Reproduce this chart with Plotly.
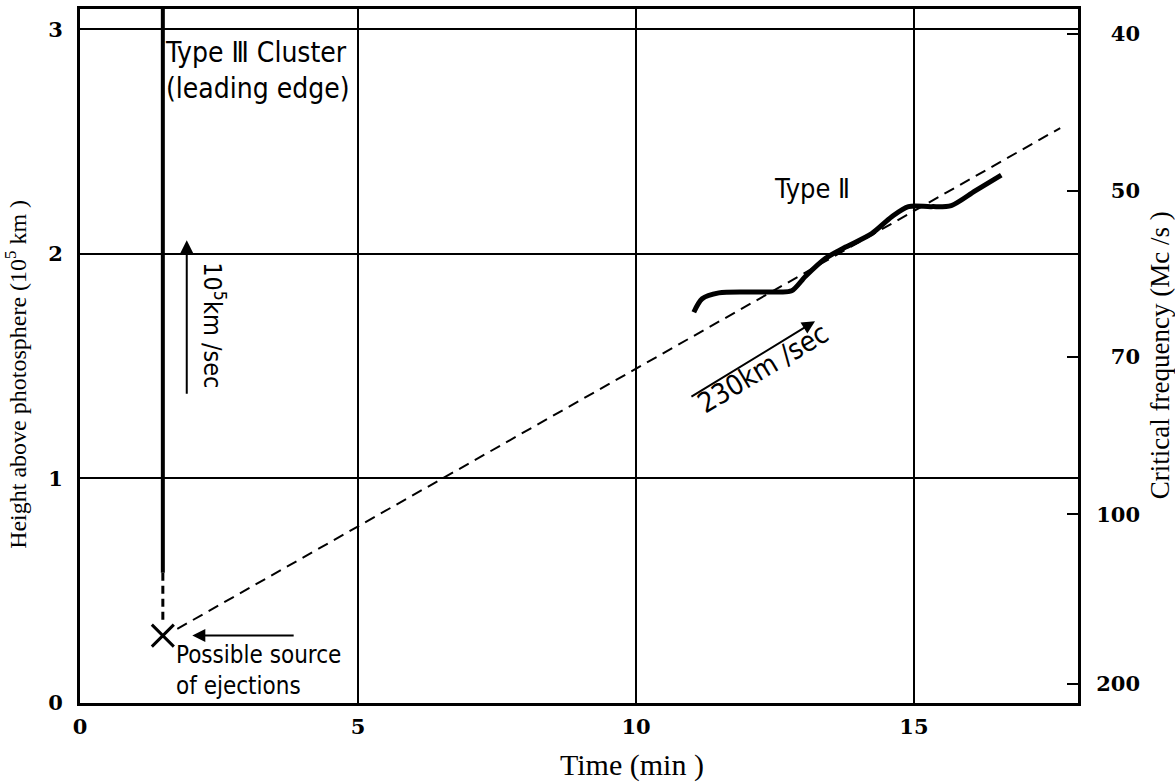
import plotly.graph_objects as go

# ---- data ----
# Type II burst track (time in min, height in 10^5 km)
type2_t = [11.04, 11.19, 11.49, 12.03, 12.57, 12.80, 13.05, 13.41, 13.77, 14.24, 14.60, 14.90, 15.31, 15.67, 16.10, 16.57]
type2_h = [1.74, 1.80, 1.826, 1.83, 1.83, 1.835, 1.90, 1.98, 2.03, 2.09, 2.165, 2.21, 2.21, 2.215, 2.28, 2.35]

# 230 km/sec fit line (dashed)
fit_t = [1.75, 17.63]
fit_h = [0.33, 2.56]

# Type III cluster leading edge
type3_t_solid = [1.49, 1.49]
type3_h_solid = [3.09, 0.58]
type3_t_dash = [1.49, 1.49]
type3_h_dash = [0.58, 0.37]

# possible source of ejections
source_t = [1.49]
source_h = [0.30]

# axes
x_ticks = [0, 5, 10, 15]
y_ticks = [0, 1, 2, 3]
freq_labels = ["40", "50", "70", "100", "200"]
freq_heights = [2.98, 2.28, 1.54, 0.84, 0.085]

X_MAX = 17.95
Y_MAX = 3.09

hand = "DejaVu Sans Condensed, Roboto Condensed, Liberation Sans Narrow, Noto Sans, sans-serif"
serif = "Liberation Serif, DejaVu Serif, serif"
numfont = "DejaVu Serif, Liberation Serif, serif"

# right-align the frequency labels with figure spaces
freq_text = ["\u2007" * (3 - len(s)) + s for s in freq_labels]

fig = go.Figure()

fig.add_trace(go.Scatter(x=fit_t, y=fit_h, mode="lines",
                         line=dict(color="black", width=2, dash="11px,7px"),
                         showlegend=False, hoverinfo="skip"))
fig.add_trace(go.Scatter(x=type3_t_solid, y=type3_h_solid, mode="lines",
                         line=dict(color="black", width=4),
                         showlegend=False, hoverinfo="skip"))
fig.add_trace(go.Scatter(x=type3_t_dash, y=type3_h_dash, mode="lines",
                         line=dict(color="black", width=3, dash="8px,5px"),
                         showlegend=False, hoverinfo="skip"))
fig.add_trace(go.Scatter(x=type2_t, y=type2_h, mode="lines",
                         line=dict(color="black", width=5, shape="spline", smoothing=0.8),
                         showlegend=False, hoverinfo="skip"))
fig.add_trace(go.Scatter(x=source_t, y=source_h, mode="markers",
                         marker=dict(symbol="x-thin", size=22, line=dict(color="black", width=3)),
                         showlegend=False, hoverinfo="skip"))
# dummy trace on right axis
fig.add_trace(go.Scatter(x=[None], y=[None], yaxis="y2", showlegend=False, hoverinfo="skip"))

annotations = [
    dict(x=1.50, y=2.98, xref="x", yref="y", xanchor="left", yanchor="top", align="left",
         text="Type Ⅲ Cluster<br>(leading edge)", showarrow=False,
         font=dict(family=hand, size=28, color="black")),
    dict(x=1.69, y=0.285, xref="x", yref="y", xanchor="left", yanchor="top", align="left",
         text="Possible source<br>of ejections", showarrow=False,
         font=dict(family=hand, size=24, color="black")),
    dict(x=13.17, y=2.29, xref="x", yref="y", text="Type Ⅱ", showarrow=False,
         font=dict(family=hand, size=27, color="black")),
    dict(x=12.28, y=1.49, xref="x", yref="y", text="230km /sec", showarrow=False,
         textangle=-31, font=dict(family=hand, size=28, color="black")),
    dict(x=2.40, y=1.68, xref="x", yref="y", text="10<sup>5</sup>km /sec", showarrow=False,
         textangle=90, font=dict(family=hand, size=25, color="black")),
    # arrows
    dict(x=1.92, y=2.06, ax=1.92, ay=1.37, xref="x", yref="y", axref="x", ayref="y",
         text="", showarrow=True, arrowhead=2, arrowsize=1.3, arrowwidth=2, arrowcolor="black"),
    dict(x=13.22, y=1.70, ax=10.97, ay=1.36, xref="x", yref="y", axref="x", ayref="y",
         text="", showarrow=True, arrowhead=2, arrowsize=1.3, arrowwidth=2, arrowcolor="black"),
    dict(x=2.02, y=0.30, ax=3.87, ay=0.30, xref="x", yref="y", axref="x", ayref="y",
         text="", showarrow=True, arrowhead=2, arrowsize=1.3, arrowwidth=2, arrowcolor="black"),
    # axis titles
    dict(x=0.553, y=-0.089, xref="paper", yref="paper", xanchor="center", yanchor="middle",
         text="Time (min )", showarrow=False,
         font=dict(family=serif, size=30, color="black")),
    dict(x=-0.064, y=0.473, xref="paper", yref="paper", xanchor="center", yanchor="middle",
         text="Height above photosphere (10<sup>5</sup> km )", showarrow=False, textangle=-90,
         font=dict(family=serif, size=24, color="black")),
    dict(x=1.082, y=0.501, xref="paper", yref="paper", xanchor="center", yanchor="middle",
         text="Critical frequency (Mc /s )", showarrow=False, textangle=-90,
         font=dict(family=serif, size=27, color="black")),
]

fig.update_layout(
    width=1175, height=782,
    margin=dict(l=80, r=97, t=9, b=79),
    paper_bgcolor="white", plot_bgcolor="white",
    showlegend=False,
    annotations=annotations,
    xaxis=dict(range=[0, X_MAX], tickvals=x_ticks, showgrid=True, gridcolor="black", gridwidth=1.6,
               zeroline=False, showline=True, linecolor="black", linewidth=3, mirror=True,
               ticks="", ticklabelstandoff=3, automargin=False,
               tickfont=dict(family=numfont, size=21, color="black", weight="bold")),
    yaxis=dict(range=[0, Y_MAX], tickvals=y_ticks, showgrid=True, gridcolor="black", gridwidth=1.6,
               zeroline=False, showline=True, linecolor="black", linewidth=3, mirror=True,
               ticks="", ticklabelstandoff=10, automargin=False,
               tickfont=dict(family=numfont, size=21, color="black", weight="bold")),
    yaxis2=dict(range=[0, Y_MAX], overlaying="y", side="right", tickvals=freq_heights,
                ticktext=freq_text, showgrid=False, zeroline=False, showline=True,
                linecolor="black", linewidth=3, ticks="inside", ticklen=11, tickwidth=2,
                tickcolor="black", ticklabelstandoff=11, automargin=False,
                tickfont=dict(family=numfont, size=21, color="black", weight="bold")),
)

fig.write_html("out.html", config={"displayModeBar": False},
               post_script="document.body.style.margin='0';document.body.style.overflow='hidden';")
